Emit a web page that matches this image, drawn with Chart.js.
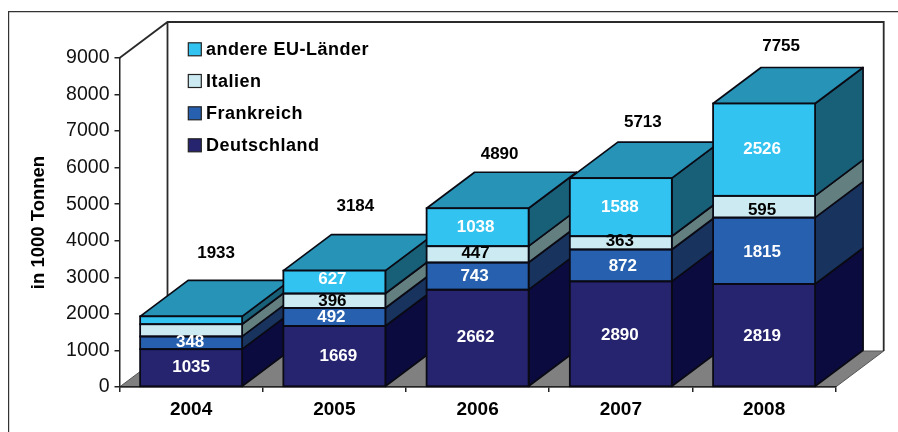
<!DOCTYPE html>
<html><head><meta charset="utf-8">
<style>html,body{margin:0;padding:0;background:#fff}#w{width:898px;height:432px;position:relative}</style>
<script src="https://cdn.jsdelivr.net/npm/chart.js@4"></script>
</head><body><div id="w"><canvas id="c"></canvas></div>
<script>
const categories = ['2004','2005','2006','2007','2008'];
const deutschland = [1035,1669,2662,2890,2819];
const frankreich = [348,492,743,872,1815];
const italien = [335,396,447,363,595];
const andere = [215,627,1038,1588,2526];
const totals = [1933,3184,4890,5713,7755];
const yTicks = [0,1000,2000,3000,4000,5000,6000,7000,8000,9000];
const seriesNames = ['Deutschland','Frankreich','Italien','andere EU-Länder'];
const frontColors = ['#26246E','#2660AE','#CCEAF1','#33C3F0'];
const sideColors = ['#0B0B3F','#19335F','#647F7F','#186078'];
const topColor = '#2794B7';
const labelColors = ['#fff','#fff','#000','#fff'];
const hiddenLabels = [[],[],[0],[0]];
const labelNudge = [
  [[0,0],[-1,0],[-1,-1],[0,0]],
  [[4,0],[-3,0],[-2,1],[-2,-3]],
  [[-2,-1],[-3,0],[-2,-1],[-2,0]],
  [[-1,2],[2,1],[-1,-2],[-1,0]],
  [[-2,1],[-2,2],[-2,4],[-2,0]]
];
const totalNudge = [[1,-27],[-3,-28],[-2,-18],[-2,-20],[-7,-21]];
const DX = 48, DY = -36;
const FONT = '"Liberation Sans", Arial, sans-serif';

const scene = {
  id:'scene',
  beforeDraw(chart){
    const {ctx, chartArea:a} = chart;
    ctx.save();
    ctx.fillStyle='#fff';ctx.fillRect(0,0,chart.width,chart.height);
    ctx.strokeStyle='#333';ctx.lineWidth=1.2;
    ctx.beginPath();ctx.moveTo(8.6,432);ctx.lineTo(8.6,11.6);ctx.lineTo(898,11.6);ctx.stroke();
    ctx.beginPath();ctx.moveTo(a.left,a.bottom);ctx.lineTo(a.left+DX,a.bottom+DY);ctx.lineTo(a.right+DX,a.bottom+DY);ctx.lineTo(a.right,a.bottom);ctx.closePath();
    ctx.fillStyle='#808080';ctx.fill();
    ctx.strokeStyle='#555';ctx.lineWidth=1;ctx.stroke();
    ctx.strokeStyle='#2a2a2a';ctx.lineWidth=1.8;
    ctx.beginPath();
    ctx.moveTo(a.left,a.top);ctx.lineTo(a.left+DX,a.top+DY);ctx.lineTo(a.right+DX,a.top+DY);ctx.lineTo(a.right+DX,a.bottom+DY);
    ctx.moveTo(a.left+DX,a.top+DY);ctx.lineTo(a.left+DX,a.bottom+DY);
    ctx.stroke();
    ctx.restore();
  },
  beforeDatasetsDraw(chart){
    const {ctx} = chart;
    ctx.save();
    ctx.lineWidth=1.7;ctx.strokeStyle='#0a0a14';ctx.lineJoin='round';
    categories.forEach((_,i)=>{
      let topBar=null;
      chart.data.datasets.forEach((ds,d)=>{
        const b=chart.getDatasetMeta(d).data[i];
        const r=b.x+b.width/2, t=b.y, bt=b.base;
        ctx.beginPath();ctx.moveTo(r,t);ctx.lineTo(r+DX,t+DY);ctx.lineTo(r+DX,bt+DY);ctx.lineTo(r,bt);ctx.closePath();
        ctx.fillStyle=sideColors[d];ctx.fill();ctx.stroke();
        topBar=b;
      });
      const l=topBar.x-topBar.width/2, r=topBar.x+topBar.width/2, t=topBar.y;
      ctx.beginPath();ctx.moveTo(l,t);ctx.lineTo(l+DX,t+DY);ctx.lineTo(r+DX,t+DY);ctx.lineTo(r,t);ctx.closePath();
      ctx.fillStyle=topColor;ctx.fill();ctx.stroke();
    });
    ctx.restore();
  },
  afterDatasetsDraw(chart){
    const {ctx} = chart;
    const y=chart.scales.y;
    ctx.save();
    ctx.strokeStyle='#0a0a14';ctx.lineWidth=1.8;
    chart.data.datasets.forEach((ds,d)=>{
      chart.getDatasetMeta(d).data.forEach(b=>{
        ctx.strokeRect(b.x-b.width/2,b.y,b.width,b.base-b.y);
      });
    });
    ctx.textAlign='center';ctx.textBaseline='middle';
    ctx.font='bold 17px '+FONT;
    chart.data.datasets.forEach((ds,d)=>{
      chart.getDatasetMeta(d).data.forEach((b,i)=>{
        if(hiddenLabels[d].includes(i)) return;
        const n=labelNudge[i][d];
        ctx.fillStyle=labelColors[d];
        ctx.fillText(String(ds.data[i]),b.x+n[0],(b.y+b.base)/2+n[1]);
      });
    });
    ctx.fillStyle='#000';
    const m=chart.getDatasetMeta(0).data;
    totals.forEach((v,i)=>{
      ctx.fillText(String(v),m[i].x+DX/2+totalNudge[i][0],y.getPixelForValue(v)+DY+totalNudge[i][1]);
    });
    const lx=188.3, ly=[49.3,81,113.3,145.3];
    ctx.textAlign='left';
    ctx.font='bold 18px '+FONT;
    ctx.letterSpacing='0.5px';
    [3,2,1,0].forEach((d,row)=>{
      ctx.fillStyle=frontColors[d];ctx.strokeStyle='#222';ctx.lineWidth=1.2;
      ctx.fillRect(lx,ly[row]-6.5,13,13);ctx.strokeRect(lx,ly[row]-6.5,13,13);
      ctx.fillStyle='#000';
      ctx.fillText(seriesNames[d],206,ly[row]+1);
    });
    ctx.restore();
  }
};

new Chart(document.getElementById('c'),{
  type:'bar',
  data:{labels:categories,datasets:[deutschland,frankreich,italien,andere].map((v,i)=>({
    label:seriesNames[i],data:v,backgroundColor:frontColors[i],borderWidth:0,
    barPercentage:0.712,categoryPercentage:1
  }))},
  options:{
    responsive:true,maintainAspectRatio:false,animation:false,
    layout:{padding:{left:0,right:62.3,top:58,bottom:0}},
    plugins:{legend:{display:false},tooltip:{enabled:false},title:{display:false}},
    scales:{
      x:{stacked:true,
        afterFit(s){s.height=45;},
        border:{color:'#222',width:1.5},
        grid:{drawOnChartArea:false,drawTicks:true,tickLength:5,color:'#222',lineWidth:1.5},
        ticks:{color:'#000',padding:6,font:{family:FONT,size:19,weight:'bold'},maxRotation:0}
      },
      y:{stacked:true,min:0,max:9000,
        afterFit(s){s.width=119.5;},
        afterBuildTicks(s){s.ticks=yTicks.map(v=>({value:v}));},
        border:{color:'#222',width:1.5},
        grid:{drawOnChartArea:false,drawTicks:true,tickLength:5,color:'#222',lineWidth:1.5},
        ticks:{color:'#111',padding:5,font:{family:FONT,size:19.5},callback:v=>String(v)},
        title:{display:true,text:'in 1000 Tonnen',color:'#000',padding:{top:28,bottom:0},font:{family:FONT,size:18.5,weight:'bold'}}
      }
    }
  },
  plugins:[scene]
});
</script></body></html>
